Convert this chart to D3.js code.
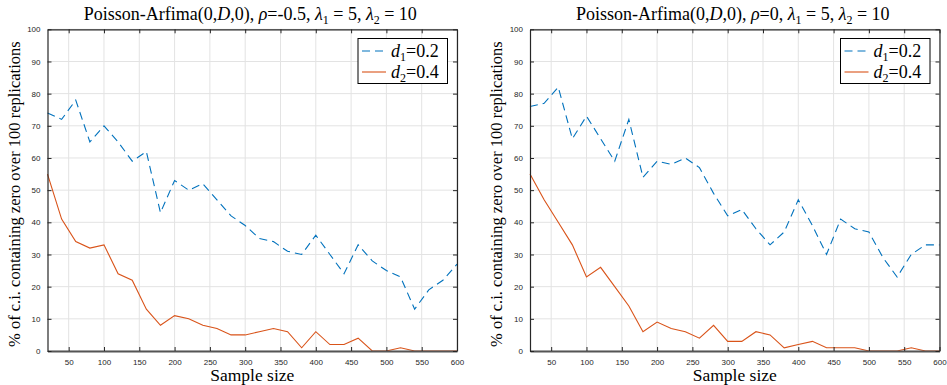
<!DOCTYPE html>
<html>
<head>
<meta charset="utf-8">
<script src="https://cdn.jsdelivr.net/npm/d3@7"></script>
<style>
  body { margin: 0; background: #fff; }
  svg { display: block; }
  .tick text { font-family: "Liberation Sans", Arial, sans-serif; font-size: 8px; fill: #262626; }
</style>
</head>
<body>
<div id="chart"></div>
<script>
// sample sizes 20..600 step 20
const sampleSizes = [20,40,60,80,100,120,140,160,180,200,220,240,260,280,300,320,340,360,380,400,420,440,460,480,500,520,540,560,580,600];

// rho = -0.5
const leftD1 = [74,72,78,65,70,65,59,62,43,53,50,52,47,42,39,35,34,31,30,36,30,24,33,28,25,23,13,19,22,27];
const leftD2 = [55,41,34,32,33,24,22,13,8,11,10,8,7,5,5,6,7,6,1,6,2,2,4,0,0,1,0,0,0,0];

// rho = 0
const rightD1 = [76,77,82,66,73,66,59,72,54,59,58,60,57,49,42,44,38,33,37,47,39,30,41,38,37,29,23,30,33,33];
const rightD2 = [55,47,40,33,23,26,20,14,6,9,7,6,4,8,3,3,6,5,1,2,3,1,1,1,0,0,0,1,0,0];

const xTicks = [50,100,150,200,250,300,350,400,450,500,550,600];
const yTicks = [0,10,20,30,40,50,60,70,80,90,100];
const rhoLabels = ['-0.5', '0'];
const legendLabels = [['1', '0.2'], ['2', '0.4']];

const width = 947;
const height = 385;
const blue = '#0072BD';
const orange = '#D95319';
const axisColor = '#262626';
const serifFont = 'Liberation Serif';

const svg = d3.select('#chart')
  .append('svg')
  .attr('width', width)
  .attr('height', height);

function drawPanel(left, rho, d1, d2) {
  const plotW = 409.5;
  const top = 29.3, bottom = 351;
  const x = d3.scaleLinear().domain([20, 600]).range([left, left + plotW]);
  const y = d3.scaleLinear().domain([0, 100]).range([bottom, top]);

  const g = svg.append('g');

  // grid
  g.append('g').selectAll('line')
    .data(xTicks).enter().append('line')
    .attr('x1', d => x(d)).attr('x2', d => x(d))
    .attr('y1', top).attr('y2', bottom)
    .attr('stroke', '#e3e3e3').attr('stroke-width', 1);
  g.append('g').selectAll('line')
    .data(yTicks).enter().append('line')
    .attr('x1', left).attr('x2', left + plotW)
    .attr('y1', d => y(d)).attr('y2', d => y(d))
    .attr('stroke', '#e3e3e3').attr('stroke-width', 1);

  // series
  const line = d3.line()
    .x((d, i) => x(sampleSizes[i]))
    .y(d => y(d));

  g.append('path')
    .datum(d1)
    .attr('d', line)
    .attr('fill', 'none')
    .attr('stroke', blue)
    .attr('stroke-width', 1.1)
    .attr('stroke-dasharray', '8,5');

  g.append('path')
    .datum(d2)
    .attr('d', line)
    .attr('fill', 'none')
    .attr('stroke', orange)
    .attr('stroke-width', 1.1);

  // axes (ticks inward, box)
  const xAxis = d3.axisBottom(x).tickValues(xTicks).tickSizeInner(-4).tickSizeOuter(0).tickPadding(8);
  const yAxis = d3.axisLeft(y).tickValues(yTicks).tickSizeInner(-4).tickSizeOuter(0).tickPadding(7);

  const gx = g.append('g').attr('transform', `translate(0,${bottom})`).call(xAxis);
  const gy = g.append('g').attr('transform', `translate(${left},0)`).call(yAxis);
  const gxTop = g.append('g').attr('transform', `translate(0,${top})`)
    .call(d3.axisTop(x).tickValues(xTicks).tickSizeInner(-4).tickSizeOuter(0).tickFormat(''));
  const gyRight = g.append('g').attr('transform', `translate(${left + plotW},0)`)
    .call(d3.axisRight(y).tickValues(yTicks).tickSizeInner(-4).tickSizeOuter(0).tickFormat(''));

  [gx, gy, gxTop, gyRight].forEach(a => {
    a.selectAll('.domain').attr('stroke', axisColor).attr('stroke-width', 1.2);
    a.selectAll('.tick line').attr('stroke', axisColor);
  });
  gx.select('.domain').attr('stroke', '#555').attr('stroke-width', 2);

  // title
  const cx = left + plotW / 2;
  const title = g.append('text')
    .attr('font-family', serifFont)
    .attr('x', cx - 2).attr('y', 20)
    .attr('text-anchor', 'middle')
    .attr('font-size', 18);
  title.append('tspan').text('Poisson-Arfima(0,');
  title.append('tspan').attr('font-style', 'italic').text('D');
  title.append('tspan').text(',0), ');
  title.append('tspan').attr('font-style', 'italic').text('ρ');
  title.append('tspan').text('=' + rho + ', ');
  title.append('tspan').attr('font-style', 'italic').text('λ');
  title.append('tspan').attr('font-size', 12).attr('dy', 4).text('1');
  title.append('tspan').attr('dy', -4).text(' = 5, ');
  title.append('tspan').attr('font-style', 'italic').text('λ');
  title.append('tspan').attr('font-size', 12).attr('dy', 4).text('2');
  title.append('tspan').attr('dy', -4).text(' = 10');

  // x label
  g.append('text')
    .attr('font-family', serifFont)
    .attr('x', cx).attr('y', 381)
    .attr('text-anchor', 'middle')
    .attr('font-size', 17.5)
    .text('Sample size');

  // y label
  g.append('text')
    .attr('font-family', serifFont)
    .attr('transform', `translate(${left - 28},${(top + bottom) / 2 + 4}) rotate(-90)`)
    .attr('text-anchor', 'middle')
    .attr('font-size', 16.5)
    .text('% of c.i. containing zero over 100 replications');

  // legend
  const lx = left + plotW - 99, ly = 38.5;
  const leg = g.append('g').attr('transform', `translate(${lx},${ly})`);
  leg.append('rect')
    .attr('width', 89.5).attr('height', 45)
    .attr('fill', '#fff')
    .attr('stroke', '#000').attr('stroke-width', 1);
  const entries = [{ color: blue, dash: '8,5', lab: legendLabels[0] }, { color: orange, dash: null, lab: legendLabels[1] }];
  entries.forEach((e, i) => {
    const yy = 12.5 + i * 21;
    leg.append('line')
      .attr('x1', 4).attr('x2', 28)
      .attr('y1', yy).attr('y2', yy)
      .attr('stroke', e.color).attr('stroke-width', 1.1)
      .attr('stroke-dasharray', e.dash);
    const t = leg.append('text')
      .attr('font-family', serifFont)
      .attr('x', 33).attr('y', yy + 5.5)
      .attr('font-size', 18);
    t.append('tspan').attr('font-style', 'italic').text('d');
    t.append('tspan').attr('font-size', 12).attr('dy', 4).text(e.lab[0]);
    t.append('tspan').attr('dy', -4).text('=' + e.lab[1]);
  });
}

drawPanel(47.5, rhoLabels[0], leftD1, leftD2);
drawPanel(530, rhoLabels[1], rightD1, rightD2);
</script>
</body>
</html>
